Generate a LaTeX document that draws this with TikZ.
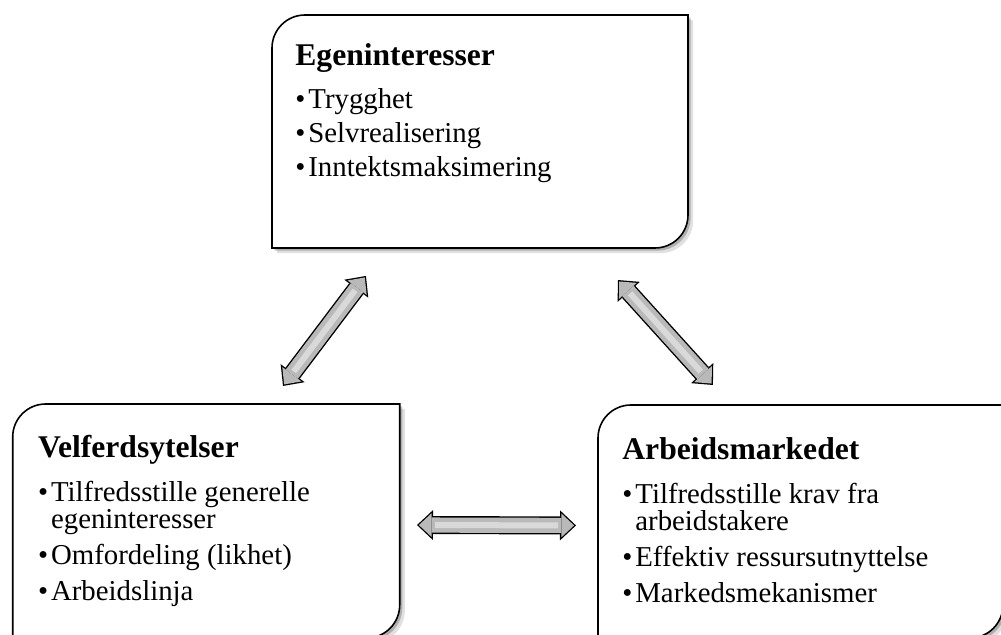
\documentclass[tikz,border=0pt]{standalone}
\usepackage{fontspec}
\setmainfont{Liberation Serif}
\usetikzlibrary{arrows.meta}
\newcommand{\bul}{\makebox[6.5pt][l]{\textbullet}}

\begin{document}
\begin{tikzpicture}[x=0.5pt,y=-0.5pt,
        box/.style={rectangle,anchor=north west,inner sep=0pt,outer sep=0pt},
        cornerbox/.style={insert path={([yshift=-16.5pt]#1.north west)
            arc[start angle=180,end angle=90,radius=16.5pt] -- (#1.north east)
            -- ([yshift=16.5pt]#1.south east)
            arc[start angle=0,end angle=-90,radius=16.5pt] -- (#1.south west) -- cycle}},
        boxline/.style={draw=black,line width=0.8pt,fill=white,
            preaction={fill=black,draw=none,opacity=0.12,
                transform canvas={xshift=2.6pt,yshift=-2.6pt}},
            preaction={fill=black,draw=none,opacity=0.22,
                transform canvas={xshift=1.3pt,yshift=-1.3pt}}},
        txt/.style={anchor=north west,align=left,inner sep=0pt,
            font=\fontsize{14.4pt}{17pt}\selectfont},
        dblarrow/.style 2 args={line width=9pt,draw=black,
            {Triangle[length=8pt,width=15pt,line width=0pt]}-{Triangle[length=8pt,width=15pt,line width=0pt]},
            shorten <=#1,shorten >=#2,
            postaction={draw=gray!55,line width=7.6pt,
                {Triangle[length=6.4pt,width=12pt,line width=0pt]}-{Triangle[length=6.4pt,width=12pt,line width=0pt]},
                shorten <=#1+0.95pt,shorten >=#2+0.95pt},
            postaction={draw=gray!30,line width=3pt,-,
                shorten <=#1+9pt,shorten >=#2+9pt}}]

\useasboundingbox (0,0) rectangle (1001,635);

% boxes
\node[box,minimum width=208pt,minimum height=116.5pt] (eg) at (272,15) {};
\node[box,minimum width=193.5pt,minimum height=117pt] (vel) at (12.7,404) {};
\node[box,minimum width=202.5pt,minimum height=116.5pt] (arb) at (598,405) {};

\draw[boxline,cornerbox=eg];
\draw[boxline,cornerbox=vel];
\draw[boxline,cornerbox=arb];

% texts
\node[txt] (egtxt) at ([xshift=11.5pt,yshift=-14pt]eg.north west)
    {{\bfseries\fontsize{15.8pt}{17pt}\selectfont Egeninteresser}\\[4.5pt]
     \bul Trygghet\\
     \bul Selvrealisering\\
     \bul Inntektsmaksimering};
\node[txt,font=\fontsize{14.4pt}{18pt}\selectfont] (veltxt) at ([xshift=12.5pt,yshift=-15.5pt]vel.north west)
    {{\bfseries\fontsize{15.8pt}{18pt}\selectfont Velferdsytelser}\\[4pt]
     \bul Tilfredsstille generelle\\[-4.5pt]
     \hspace*{6.5pt}egeninteresser\\
     \bul Omfordeling (likhet)\\
     \bul Arbeidslinja};
\node[txt,font=\fontsize{14.4pt}{18pt}\selectfont] (arbtxt) at ([xshift=12pt,yshift=-16pt]arb.north west)
    {{\bfseries\fontsize{15.8pt}{18pt}\selectfont Arbeidsmarkedet}\\[4pt]
     \bul Tilfredsstille krav fra\\[-4.5pt]
     \hspace*{6.5pt}arbeidstakere\\
     \bul Effektiv ressursutnyttelse\\
     \bul Markedsmekanismer};

% connectors
\draw[dblarrow={11.3pt}{17.5pt}] ([xshift=31.6pt]vel.north) -- ([xshift=-46.5pt]eg.south);
\draw[dblarrow={21.6pt}{13.5pt}] ([xshift=54.5pt]eg.south) -- ([xshift=-34.75pt]arb.north);
\draw[dblarrow={8.65pt}{11pt}] ([yshift=-2pt]vel.east) -- ([yshift=-2pt]arb.west);
\end{tikzpicture}
\end{document}
